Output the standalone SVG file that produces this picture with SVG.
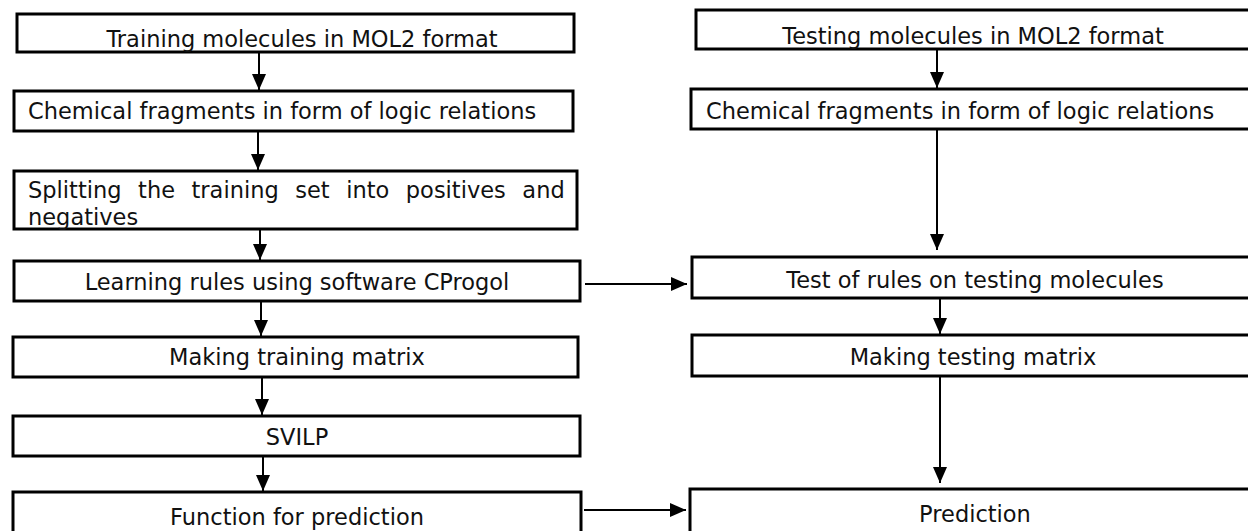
<svg xmlns="http://www.w3.org/2000/svg" width="1248" height="531" viewBox="0 0 1248 531">
<style>
.box{fill:#fff;stroke:#000;stroke-width:3}
.t{font-family:"DejaVu Sans","Verdana",sans-serif;font-size:22.5px;fill:#111}
.c{text-anchor:middle}
.ln{stroke:#000;stroke-width:2;fill:none}
</style>
<defs>
<marker id="ah" markerUnits="userSpaceOnUse" markerWidth="16" markerHeight="14" refX="16" refY="7" orient="auto">
<path d="M0,0 L16,7 L0,14 Z" fill="#000"/>
</marker>
</defs>
<rect width="1248" height="531" fill="#fff"/>
<g id="connectors">
<line class="ln" x1="259" y1="52" x2="259" y2="90" marker-end="url(#ah)"/>
<line class="ln" x1="258" y1="131" x2="258" y2="170" marker-end="url(#ah)"/>
<line class="ln" x1="260" y1="229" x2="260" y2="260" marker-end="url(#ah)"/>
<line class="ln" x1="261" y1="301" x2="261" y2="336" marker-end="url(#ah)"/>
<line class="ln" x1="262" y1="377" x2="262" y2="415" marker-end="url(#ah)"/>
<line class="ln" x1="263" y1="456" x2="263" y2="491" marker-end="url(#ah)"/>
<line class="ln" x1="937" y1="49" x2="937" y2="88" marker-end="url(#ah)"/>
<line class="ln" x1="937" y1="129" x2="937" y2="250" marker-end="url(#ah)"/>
<line class="ln" x1="940" y1="298" x2="940" y2="334" marker-end="url(#ah)"/>
<line class="ln" x1="940" y1="376" x2="940" y2="483" marker-end="url(#ah)"/>
<line class="ln" x1="585" y1="284" x2="687" y2="284" marker-end="url(#ah)"/>
<line class="ln" x1="584" y1="510" x2="686" y2="510" marker-end="url(#ah)"/>
</g>
<g id="n1"><rect class="box" x="17" y="14" width="557" height="38"/><text class="t c" x="302" y="47">Training molecules in MOL2 format</text></g>
<g id="n2"><rect class="box" x="14" y="91" width="559" height="40"/><text class="t" x="28" y="119">Chemical fragments in form of logic relations</text></g>
<g id="n3"><rect class="box" x="14" y="171" width="563" height="58"/><text class="t" x="28" y="198" word-spacing="9.4">Splitting the training set into positives and</text><text class="t" x="28" y="225">negatives</text></g>
<g id="n4"><rect class="box" x="14" y="261" width="566" height="40"/><text class="t c" x="297" y="290">Learning rules using software CProgol</text></g>
<g id="n5"><rect class="box" x="13" y="337" width="565" height="40"/><text class="t c" x="297" y="365">Making training matrix</text></g>
<g id="n6"><rect class="box" x="13" y="416" width="567" height="40"/><text class="t c" x="297" y="445">SVILP</text></g>
<g id="n7"><rect class="box" x="13" y="492" width="568" height="53"/><text class="t c" x="297" y="525">Function for prediction</text></g>
<g id="r1"><rect class="box" x="696" y="10" width="570" height="39"/><text class="t c" x="973" y="44">Testing molecules in MOL2 format</text></g>
<g id="r2"><rect class="box" x="691" y="89" width="575" height="40"/><text class="t" x="706" y="119">Chemical fragments in form of logic relations</text></g>
<g id="r3"><rect class="box" x="692" y="257" width="574" height="41"/><text class="t c" x="975" y="288">Test of rules on testing molecules</text></g>
<g id="r4"><rect class="box" x="692" y="335" width="574" height="41"/><text class="t c" x="973" y="365">Making testing matrix</text></g>
<g id="r5"><rect class="box" x="690" y="489" width="576" height="56"/><text class="t c" x="975" y="522">Prediction</text></g>
</svg>
